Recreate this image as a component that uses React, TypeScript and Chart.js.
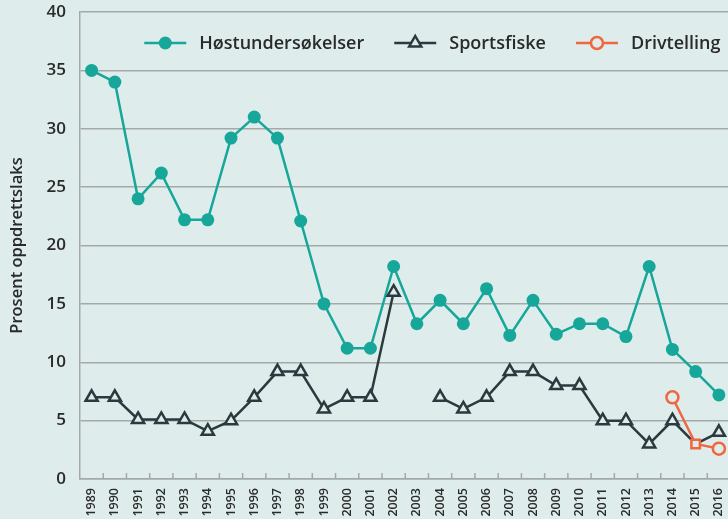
import React, { useEffect, useRef } from 'react';
import { Chart, registerables } from 'chart.js';

Chart.register(...registerables);

// ---- Data ----
const years = [
  '1989', '1990', '1991', '1992', '1993', '1994', '1995', '1996', '1997', '1998',
  '1999', '2000', '2001', '2002', '2003', '2004', '2005', '2006', '2007', '2008',
  '2009', '2010', '2011', '2012', '2013', '2014', '2015', '2016',
];
const hostValues = [
  35, 34, 24, 26.2, 22.2, 22.2, 29.2, 31, 29.2, 22.1,
  15, 11.2, 11.2, 18.2, 13.3, 15.3, 13.3, 16.3, 12.3, 15.3,
  12.4, 13.3, 13.3, 12.2, 18.2, 11.1, 9.2, 7.2,
];
const sportValues = [
  7, 7, 5.1, 5.1, 5.1, 4.1, 5, 7, 9.2, 9.2,
  6, 7, 7, 16, null, 7, 6, 7, 9.2, 9.2,
  8, 8, 5, 5, 3, 5, 3, 4,
];
const drivValues = [
  null, null, null, null, null, null, null, null, null, null,
  null, null, null, null, null, null, null, null, null, null,
  null, null, null, null, null, 7, 3, 2.6,
];
const seriesNames = ['Høstundersøkelser', 'Sportsfiske', 'Drivtelling'];
const yTitle = 'Prosent oppdrettslaks';
const yMin = 0;
const yMax = 40;
const yStep = 5;
const squareYear = '2015';

// ---- Style ----
const BG = '#deedeb';
const TEAL = '#17a79a';
const DARK = '#2b3a3f';
const ORANGE = '#f0673f';
const GRID = '#a4a9a8';
const TEXT = '#2a2a2a';
const FONT = '"Open Sans", "Noto Sans", sans-serif';
const SERIES_COLORS = [TEAL, DARK, ORANGE];
const SERIES_KINDS = ['dot', 'triangle', 'ring'];
const CANVAS_W = 740;
const CANVAS_H = 519;

function drawSymbol(ctx: CanvasRenderingContext2D, kind: string, color: string, x0: number, x1: number, y: number) {
  const cx = (x0 + x1) / 2;
  ctx.save();
  ctx.strokeStyle = color;
  ctx.lineWidth = 2.5;
  ctx.beginPath();
  ctx.moveTo(x0, y);
  ctx.lineTo(x1, y);
  ctx.stroke();
  if (kind === 'dot') {
    ctx.fillStyle = color;
    ctx.beginPath();
    ctx.arc(cx, y, 6.5, 0, Math.PI * 2);
    ctx.fill();
  } else if (kind === 'triangle') {
    const r = 7;
    ctx.fillStyle = BG;
    ctx.beginPath();
    ctx.moveTo(cx, y - r);
    ctx.lineTo(cx + r * 0.866, y + r / 2);
    ctx.lineTo(cx - r * 0.866, y + r / 2);
    ctx.closePath();
    ctx.fill();
    ctx.stroke();
  } else {
    ctx.fillStyle = BG;
    ctx.beginPath();
    ctx.arc(cx, y, 6, 0, Math.PI * 2);
    ctx.fill();
    ctx.stroke();
  }
  ctx.restore();
}

const innerTicks = {
  id: 'innerTicks',
  beforeDatasetsDraw(chart: any) {
    const xs = chart.scales.x;
    const ctx = chart.ctx;
    const bottom = chart.chartArea.bottom;
    ctx.save();
    ctx.strokeStyle = GRID;
    ctx.lineWidth = 1.5;
    for (let i = 0; i < years.length - 1; i++) {
      const px = (xs.getPixelForValue(i) + xs.getPixelForValue(i + 1)) / 2;
      ctx.beginPath();
      ctx.moveTo(px, bottom);
      ctx.lineTo(px, bottom - 6);
      ctx.stroke();
    }
    ctx.restore();
  },
};

const insideLegend = {
  id: 'insideLegend',
  afterDraw(chart: any) {
    const ctx = chart.ctx as CanvasRenderingContext2D;
    const area = chart.chartArea;
    const symW = 42;
    const symGap = 13;
    const itemGap = 30;
    const y = area.top + 31;
    ctx.save();
    ctx.font = `600 18px ${FONT}`;
    ctx.textBaseline = 'middle';
    ctx.textAlign = 'left';
    let right = area.right - 10;
    for (let i = seriesNames.length - 1; i >= 0; i--) {
      const w = ctx.measureText(seriesNames[i]).width;
      const textX = right - w;
      const symEnd = textX - symGap;
      const symStart = symEnd - symW;
      ctx.fillStyle = TEXT;
      ctx.fillText(seriesNames[i], textX, y + 1);
      drawSymbol(ctx, SERIES_KINDS[i], SERIES_COLORS[i], symStart, symEnd, y);
      right = symStart - itemGap;
    }
    ctx.restore();
  },
};

export default function App() {
  const ref = useRef<HTMLCanvasElement | null>(null);

  useEffect(() => {
    if (!ref.current) return;
    const sportRadius = years.map((y) => (y === squareYear ? 0 : 7));
    const drivStyles = years.map((y) => (y === squareYear ? 'rect' : 'circle'));

    const chart = new Chart(ref.current, {
      type: 'line',
      data: {
        labels: years,
        datasets: [
          {
            label: seriesNames[0],
            data: hostValues,
            borderColor: TEAL,
            backgroundColor: TEAL,
            borderWidth: 2.5,
            pointStyle: 'circle',
            pointRadius: 6.5,
            pointHoverRadius: 6.5,
            pointBackgroundColor: TEAL,
            pointBorderColor: TEAL,
            pointBorderWidth: 0,
            tension: 0,
            order: 3,
          },
          {
            label: seriesNames[1],
            data: sportValues,
            borderColor: DARK,
            backgroundColor: BG,
            borderWidth: 2.5,
            pointStyle: 'triangle',
            pointRadius: sportRadius,
            pointHoverRadius: sportRadius,
            pointBackgroundColor: BG,
            pointBorderColor: DARK,
            pointBorderWidth: 2.5,
            spanGaps: false,
            tension: 0,
            order: 2,
          },
          {
            label: seriesNames[2],
            data: drivValues,
            borderColor: ORANGE,
            backgroundColor: BG,
            borderWidth: 2.5,
            pointStyle: drivStyles as any,
            pointRadius: 6,
            pointHoverRadius: 6,
            pointBackgroundColor: BG,
            pointBorderColor: ORANGE,
            pointBorderWidth: 2.5,
            tension: 0,
            order: 1,
          },
        ],
      },
      options: {
        animation: false,
        responsive: false,
        maintainAspectRatio: false,
        devicePixelRatio: 1,
        events: [],
        layout: { padding: { top: 12, left: 0, right: 0, bottom: 0 } },
        scales: {
          x: {
            offset: true,
            grid: { display: false, drawTicks: false },
            border: { display: true, color: GRID, width: 1.5 },
            ticks: {
              autoSkip: false,
              minRotation: 90,
              maxRotation: 90,
              padding: 9,
              color: TEXT,
              font: { family: FONT, size: 12.5, weight: '600' },
            },
            afterFit(scale: any) {
              scale.height = 40;
              scale.paddingLeft = 0;
              scale.paddingRight = 0;
            },
          },
          y: {
            min: yMin,
            max: yMax,
            grid: { color: GRID, lineWidth: 1.5, drawTicks: false },
            border: { display: true, color: GRID, width: 1.5 },
            ticks: {
              stepSize: yStep,
              padding: 14,
              color: TEXT,
              font: { family: FONT, size: 17, weight: '600' },
            },
            title: {
              display: true,
              text: yTitle,
              color: TEXT,
              padding: { top: 7, bottom: 0 },
              font: { family: FONT, size: 16.5, weight: '600' },
            },
            afterFit(scale: any) {
              scale.width = 80;
              scale.paddingTop = 0;
              scale.paddingBottom = 0;
            },
          },
        },
        plugins: {
          tooltip: { enabled: false },
          legend: { display: false },
        },
      },
      plugins: [innerTicks, insideLegend],
    });
    return () => chart.destroy();
  }, []);

  return (
    <div
      style={{
        position: 'fixed',
        left: 0,
        top: 0,
        width: 728,
        height: 519,
        overflow: 'hidden',
        background: BG,
      }}
    >
      <canvas
        ref={ref}
        width={CANVAS_W}
        height={CANVAS_H}
        style={{ display: 'block', width: CANVAS_W, height: CANVAS_H }}
      />
    </div>
  );
}
